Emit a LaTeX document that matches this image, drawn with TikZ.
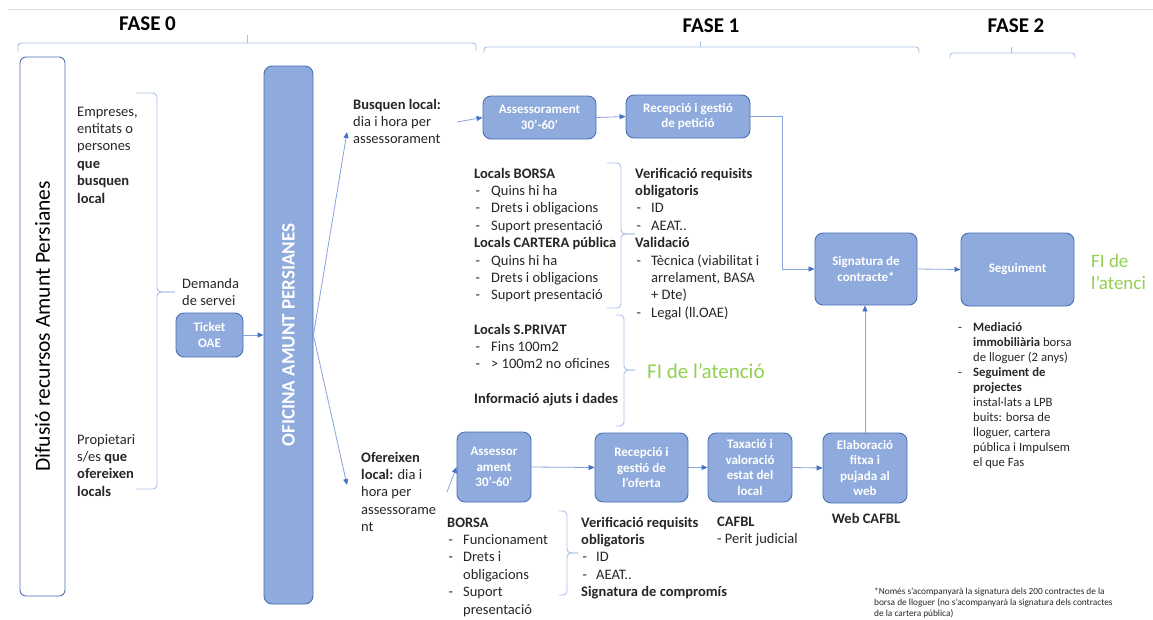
\documentclass[tikz,border=0pt]{standalone}
\usepackage{fontspec}
\usepackage{graphicx}
\setmainfont{Carlito}
\usetikzlibrary{arrows.meta}
\definecolor{boxfill}{HTML}{8FAADC}
\definecolor{boxdraw}{HTML}{4A6FB5}
\definecolor{linec}{HTML}{86A3DA}
\definecolor{arrc}{HTML}{4472C4}
\definecolor{bracec}{HTML}{A9BFE6}
\definecolor{txt}{HTML}{262626}
\definecolor{figreen}{HTML}{92D050}
\definecolor{rulec}{HTML}{DDDDDD}
\newcommand{\myfs}[2]{\fontsize{#1}{#2}\selectfont}
\newcommand{\dsh}[1]{\makebox[#1][l]{\hspace{1.5pt}-}}
\newcommand{\ind}[1]{\hspace*{#1}}
\newcommand{\blk}[1]{\begin{tabular}[t]{@{}l@{}}#1\end{tabular}}
\begin{document}
\begin{tikzpicture}[x=1pt,y=-1pt,
  box/.style={draw=boxdraw, fill=boxfill, line width=0.9pt, rounded corners=8pt, text=white, font=\bfseries\myfs{13}{15.5}, align=center, inner sep=0pt},
  conn/.style={draw=linec, line width=0.8pt, -{Triangle[length=6pt,width=5pt,color=arrc]}},
  brc/.style={draw=bracec, line width=0.9pt, rounded corners=4pt},
  txtn/.style={anchor=base west, inner sep=0pt, text=txt, font=\myfs{14.5}{17.4}},
  phase/.style={font=\bfseries\myfs{21}{25}, text=black, inner sep=0pt},
]
\useasboundingbox (0,0) rectangle (1153,619);
\draw[rulec, line width=0.8pt] (8,9) -- (1153,9);

% phase labels and brackets
\node[phase] (f0) at (147.5,24) {FASE 0};
\node[phase] (f1) at (711,26) {FASE 1};
\node[phase] (f2) at (1016,26) {FASE 2};
\draw[brc, rounded corners=3pt] (18,52) -- (18,43) -- (476,43) -- (476,51);
\draw[brc] (247,43) -- (247,35);
\draw[brc, rounded corners=3pt] (484,53) -- (484,47) -- (919,47) -- (919,53);
\draw[brc] (700,47) -- (700,41);
\draw[brc, rounded corners=3pt] (950,58) -- (950,53) -- (1075,53) -- (1075,58);
\draw[brc] (1011,53) -- (1011,47);

% left column
\node[draw=boxdraw, fill=white, line width=0.9pt, rounded corners=6pt, minimum width=45pt, minimum height=539pt, inner sep=0pt, text=black] (difusio) at (42.5,326.5) {\rotatebox{90}{\myfs{21.5}{26}Difusió recursos Amunt Persianes}};

\node[txtn] (empreses) at (77,116) {\blk{Empreses,\\entitats o\\persones\\\textbf{que}\\\textbf{busquen}\\\textbf{local}}};
\node[txtn] (propietaris) at (77,444) {\blk{Propietari\\s/es \textbf{que}\\\textbf{ofereixen}\\\textbf{locals}}};
\draw[brc] (136,93) -- (157,93) -- (157,292) -- (175,292);
\draw[brc] (136,489) -- (157,489) -- (157,292) -- (175,292);
\node[txtn] (demanda) at (182,288) {\blk{Demanda\\de servei}};

\node[box, minimum width=67pt, minimum height=44pt] (ticket) at (209.5,335) {Ticket\\OAE};
\node[box, minimum width=49pt, minimum height=538pt] (oficina) at (288.5,335) {\rotatebox{90}{\myfs{19}{22}OFICINA AMUNT PERSIANES}};
\draw[conn] (ticket.east) -- (oficina.west |- ticket.east);

% upper branch
\node[txtn] (busquen) at (353,109) {\blk{\textbf{Busquen local:}\\dia i hora per\\assessorament}};
\coordinate (bqin) at (347,132);
\coordinate (ofin) at (347,485);
\draw[conn] (oficina.east) -- (bqin);
\draw[conn] (oficina.east) -- (ofin);

\node[box, minimum width=113pt, minimum height=43pt] (assess1) at (539.5,117.5) {Assessorament\\30’-60’};
\node[box, minimum width=124pt, minimum height=43pt] (recep1) at (688,116.5) {Recepció i gestió\\de petició};
\coordinate (bqout) at (457,122);
\draw[conn] (bqout) -- (assess1.west);
\draw[conn] (assess1.east) -- (recep1.west);

\node[txtn] (locals) at (474,178) {\blk{\textbf{Locals BORSA}\\\dsh{17pt}Quins hi ha\\\dsh{17pt}Drets i obligacions\\\dsh{17pt}Suport presentació\\\textbf{Locals CARTERA pública}\\\dsh{17pt}Quins hi ha\\\dsh{17pt}Drets i obligacions\\\dsh{17pt}Suport presentació}};
\draw[brc] (607,163) -- (621,163) -- (621,234) -- (635,234);
\draw[brc] (607,308) -- (621,308) -- (621,234) -- (635,234);
\node[txtn] (verif1) at (635,178) {\blk{\textbf{Verificació requisits}\\\textbf{obligatoris}\\\dsh{16pt}ID\\\dsh{16pt}AEAT..\\\textbf{Validació}\\\dsh{16pt}Tècnica (viabilitat i\\\ind{16pt}arrelament, BASA\\\ind{16pt}+ Dte)\\\dsh{16pt}Legal (ll.OAE)}};

\node[txtn] (sprivat) at (474,334) {\blk{\textbf{Locals S.PRIVAT}\\\dsh{17pt}Fins 100m2\\\dsh{17pt}> 100m2 no oficines\\ \\\textbf{Informació ajuts i dades}}};
\draw[brc] (616,315) -- (624,315) -- (624,370) -- (635,370);
\draw[brc] (616,426) -- (624,426) -- (624,370) -- (635,370);
\node[anchor=base west, inner sep=0pt, text=figreen, font=\myfs{21}{25}] (fimid) at (647,378) {FI de l’atenció};

% signature and follow-up
\node[box, minimum width=102pt, minimum height=72pt] (sign) at (866,269) {Signatura de\\contracte*};
\node[box, minimum width=113pt, minimum height=73pt] (segui) at (1017.5,269.5) {Seguiment};
\draw[conn, rounded corners=0pt] (recep1.east) -- ++(32,0) |- (sign.west);
\draw[conn] (sign.east) -- (segui.west);
\node[anchor=base west, inner sep=0pt, text=figreen, font=\myfs{19}{22}, align=left] (firight) at (1091,267) {\blk{FI de\\l’atenci}};
\node[anchor=base west, inner sep=0pt, text=txt, font=\myfs{12.7}{15.1}] (seglist) at (958,331) {\blk{\makebox[15pt][l]{-}\textbf{Mediació}\\\ind{15pt}\textbf{immobiliària} borsa\\\ind{15pt}de lloguer (2 anys)\\\makebox[15pt][l]{-}\textbf{Seguiment de}\\\ind{15pt}\textbf{projectes}\\\ind{15pt}instal·lats a LPB\\\ind{15pt}buits: borsa de\\\ind{15pt}lloguer, cartera\\\ind{15pt}pública i Impulsem\\\ind{15pt}el que Fas}};

% lower branch
\node[txtn] (ofereixen) at (361,462) {\blk{\textbf{Ofereixen}\\\textbf{local:} dia i\\hora per\\assessorame\\nt}};
\node[box, minimum width=74pt, minimum height=70pt] (assess2) at (494,467) {Assessor\\ament\\30’-60’};
\node[box, minimum width=93pt, minimum height=69pt] (recep2) at (641.5,467.5) {Recepció i\\gestió de\\l’oferta};
\node[box, minimum width=84pt, minimum height=69pt] (taxa) at (750,467.5) {Taxació i\\valoració\\estat del\\local};
\node[box, minimum width=84pt, minimum height=70pt] (elab) at (865,468) {Elaboració\\fitxa i\\pujada al\\web};
\coordinate (ofout) at (447,492);
\draw[conn] (ofout) -- (assess2.west);
\draw[conn] (assess2.east) -- (recep2.west);
\draw[conn] (recep2.east) -- (taxa.west);
\draw[conn] (taxa.east) -- (elab.west);
\draw[conn] (elab.north) -- (elab.north |- sign.south);

\node[txtn] (borsa2) at (447,527) {\blk{\textbf{BORSA}\\\dsh{16pt}Funcionament\\\dsh{16pt}Drets i\\\ind{16pt}obligacions\\\dsh{16pt}Suport\\\ind{16pt}presentació}};
\draw[brc] (559,511) -- (567,511) -- (567,553) -- (578,553);
\draw[brc] (559,595) -- (567,595) -- (567,553) -- (578,553);
\node[txtn] (verif2) at (581,527) {\blk{\textbf{Verificació requisits}\\\textbf{obligatoris}\\\dsh{15pt}ID\\\dsh{15pt}AEAT..\\\textbf{Signatura de compromís}}};
\node[txtn] (cafbl) at (717,526) {\blk{\textbf{CAFBL}\\- Perit judicial}};
\node[anchor=base, inner sep=0pt, text=txt, font=\bfseries\myfs{14.5}{17.4}] (webcafbl) at (866,523) {Web CAFBL};

\node[anchor=base west, inner sep=0pt, text=txt, font=\myfs{9.3}{11}] (nota) at (874,594) {\blk{*Només s’acompanyarà la signatura dels 200 contractes de la\\borsa de lloguer (no s’acompanyarà la signatura dels contractes\\de la cartera pública)}};
\end{tikzpicture}
\end{document}
